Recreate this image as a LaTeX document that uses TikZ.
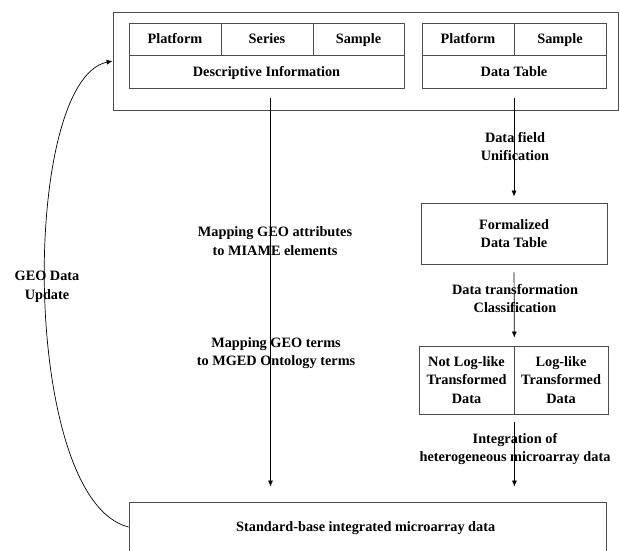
\documentclass[tikz,border=0pt]{standalone}
\usepackage{fontspec}
\setmainfont{Liberation Serif}
\usetikzlibrary{arrows.meta}
\begin{document}
\begin{tikzpicture}[x=1pt,y=-1pt,
  box/.style={draw=black!70, line width=0.8pt, inner sep=0pt, align=center,
    font=\fontsize{14.3}{18.5}\selectfont\bfseries},
  cell/.style={box, text height=11pt, text depth=1.6pt},
  lbl/.style={align=center, font=\fontsize{14.3}{18.5}\selectfont\bfseries},
  flow/.style={draw=black, line width=0.7pt, -{Latex[length=6pt,width=5pt]}}]
% GEO 資料經對應與轉換後整合成標準化的 microarray 資料
\useasboundingbox (0,0) rectangle (620,550);

\node[box, minimum width=505pt, minimum height=98pt] (GEO) at (365.5,61) {};

\foreach \n/\s/\x/\y/\w/\h/\t in
{ DescPlatform/cell/175/39/92/32/Platform,
    DescSeries/cell/267/39/92/32/Series,
    DescSample/cell/358.5/39/91/32/Sample,
    DescInfo/cell/266.5/71.5/275/33/Descriptive Information,
    DataPlatform/cell/468/39/92/32/Platform,
    DataSample/cell/560/39/92/32/Sample,
    DataTable/cell/514/71.5/184/33/Data Table,
    Formalized/box/514/233.5/186/61/{Formalized\\Data Table},
    NotLog/box/466.5/380/95/68/{Not Log-like\\Transformed\\Data},
    LogLike/box/561/380/94/68/{Log-like\\Transformed\\Data},
    Standard/cell/367.5/527/477/50/Standard-base integrated microarray data
}
{
    \node[\s, minimum width=\w pt, minimum height=\h pt] (\n) at (\x,\y) {\t};
};

\node[lbl] (UnifyLbl) at (515,146.5) {Data field\\Unification};
\node[lbl] (ClassLbl) at (515,298.5) {Data transformation\\Classification};
\node[lbl] (IntegLbl) at (515,449) {Integration of\\heterogeneous microarray data};
\node[lbl] (MiameLbl) at (275,241) {Mapping GEO attributes\\to MIAME elements};
\node[lbl] (MgedLbl) at (276,353) {Mapping GEO terms\\to MGED Ontology terms};
\node[lbl] (UpdateLbl) at (47,287) {GEO Data\\Update};

\draw[flow, shorten <=10pt, shorten >=15pt]
([xshift=4pt]DescInfo.south) -- ([xshift=4pt]Standard.north -| DescInfo.south);
\draw[flow, shorten <=10pt, shorten >=6pt] (DataTable.south) -- (Formalized.north);
\draw[flow, shorten <=8pt, shorten >=8pt] (Formalized.south) -- (NotLog.north east);
\draw[flow, shorten <=8pt, shorten >=15pt] (NotLog.south east) -- (Standard.north -| NotLog.east);

\draw[flow] (Standard.west) .. controls (20,500) and (20,80) .. (GEO.west);
\end{tikzpicture}
\end{document}
